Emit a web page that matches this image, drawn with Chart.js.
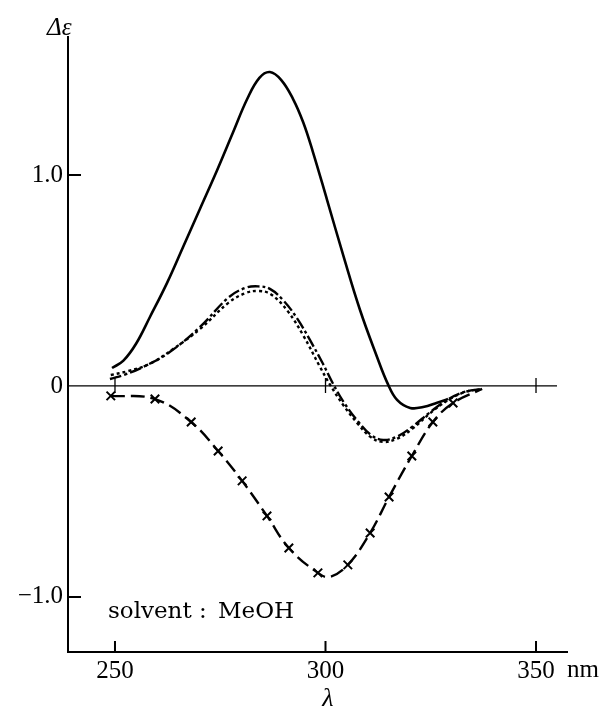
<!DOCTYPE html>
<html>
<head>
<meta charset="utf-8">
<script src="https://cdn.jsdelivr.net/npm/chart.js@4"></script>
<style>
  html, body { margin: 0; padding: 0; background: #fff; }
  canvas { display: block; }
</style>
</head>
<body>
<canvas id="cd" width="604" height="710"></canvas>
<script>
// CD spectra (nm, delta epsilon)
const solidCurve = [
    [249.3, 0.085], [252.0, 0.12], [255.0, 0.2], [258.3, 0.327], [262.4, 0.49], [266.2, 0.66],
    [270.2, 0.84], [274.2, 1.02], [278.0, 1.2], [281.4, 1.36], [284.3, 1.46],
    [286.8, 1.488], [289.5, 1.45], [292.3, 1.36], [294.7, 1.25], [297.0, 1.11],
    [300.4, 0.88], [304.2, 0.62], [308.2, 0.36], [312.2, 0.14], [314.8, 0.01],
    [317.0, -0.066], [320.1, -0.104], [323.2, -0.1], [326.5, -0.08], [329.1, -0.062],
];
const dashDotCurve = [
    [248.8, 0.033], [252.5, 0.055], [256.7, 0.09], [263.0, 0.161], [270.2, 0.28],
    [277.0, 0.42], [281.0, 0.465], [284.0, 0.472], [286.8, 0.46], [290.0, 0.405], [293.2, 0.322],
    [296.3, 0.218], [299.4, 0.105], [301.8, 0.01], [304.6, -0.085], [307.8, -0.17],
    [310.8, -0.232], [313.7, -0.256], [317.0, -0.24], [320.8, -0.19], [324.8, -0.125],
    [328.9, -0.066], [332.7, -0.03], [337.2, -0.014],
];
const dottedCurve = [
    [249.0, 0.052], [253.0, 0.07], [258.3, 0.105], [263.8, 0.175], [270.2, 0.27],
    [277.0, 0.395], [281.0, 0.44], [284.0, 0.45], [287.0, 0.435], [291.0, 0.355], [294.7, 0.24],
    [298.7, 0.09], [301.1, 0.005], [304.2, -0.09], [307.5, -0.175], [310.6, -0.24],
    [313.5, -0.265], [317.0, -0.25], [320.8, -0.2], [324.8, -0.13], [328.9, -0.07],
    [332.7, -0.032], [336.0, -0.016],
];
const crossMarks = [
    [249.0, -0.047], [259.5, -0.062], [268.1, -0.171], [274.5, -0.308], [280.2, -0.450],
    [286.1, -0.616], [291.3, -0.768], [298.2, -0.886], [305.3, -0.848], [310.6, -0.697],
    [315.1, -0.526], [320.5, -0.332], [325.5, -0.171], [330.3, -0.081],
];
const crossCurveExtra = [[301.0, -0.905], [337.2, -0.014]];

const xTicks = [250, 300, 350];
const yTicks = [-1, 0, 1];
const yTickLabels = { "-1": "\u22121.0", "0": "0", "1": "1.0" };

const toXY = (arr) => arr.map(([x, y]) => ({ x, y }));
const crossCurve = toXY(crossMarks.concat(crossCurveExtra)).sort((a, b) => a.x - b.x);

const serif = "'Liberation Serif', serif";

const decorations = {
    id: "decorations",
    beforeDatasetsDraw(chart) {
        const { ctx, scales: { x, y }, chartArea } = chart;
        const y0 = y.getPixelForValue(0);
        ctx.save();
        ctx.strokeStyle = "#000";
        // zero line with crossing ticks
        ctx.lineWidth = 1.3;
        ctx.beginPath();
        ctx.moveTo(chartArea.left, y0);
        ctx.lineTo(557, y0);
        xTicks.forEach((v) => {
            const px = x.getPixelForValue(v);
            ctx.moveTo(px, y0 - 8);
            ctx.lineTo(px, y0 + 7);
        });
        ctx.stroke();
        // inner ticks on the axes
        ctx.lineWidth = 2;
        ctx.beginPath();
        yTicks.filter((v) => v !== 0).forEach((v) => {
            const py = y.getPixelForValue(v);
            ctx.moveTo(chartArea.left, py);
            ctx.lineTo(chartArea.left + 13, py);
        });
        xTicks.forEach((v) => {
            const px = x.getPixelForValue(v);
            ctx.moveTo(px, chartArea.bottom);
            ctx.lineTo(px, chartArea.bottom - 11);
        });
        ctx.stroke();
        ctx.restore();
    },
    afterDraw(chart) {
        const { ctx } = chart;
        ctx.save();
        ctx.fillStyle = "#000";
        ctx.textBaseline = "alphabetic";
        ctx.font = "italic 25px " + serif;
        ctx.textAlign = "left";
        ctx.fillText("\u0394\u03b5", 47, 35);
        ctx.font = "25px " + serif;
        ctx.fillText("nm", 567, 677);
        ctx.font = "italic 26px " + serif;
        ctx.textAlign = "center";
        ctx.fillText("\u03bb", 328, 706);
        ctx.font = "23px 'DejaVu Serif', serif";
        ctx.textAlign = "left";
        ctx.fillText("solvent", 108, 618);
        ctx.fillText(":", 199, 618);
        ctx.fillText("MeOH", 218, 618);
        ctx.restore();
    },
};

const lineStyle = {
    borderColor: "#000",
    pointRadius: 0,
    tension: 0.4,
};

new Chart(document.getElementById("cd"), {
    type: "line",
    data: {
        datasets: [
            { ...lineStyle, data: toXY(solidCurve), borderWidth: 2.6 },
            { ...lineStyle, data: toXY(dashDotCurve), borderWidth: 2.4, borderDash: [12, 3, 3, 3] },
            { ...lineStyle, data: toXY(dottedCurve), borderWidth: 2.4, borderDash: [3, 3] },
            { ...lineStyle, data: crossCurve, borderWidth: 2.4, borderDash: [14, 6] },
            {
                data: toXY(crossMarks),
                showLine: false,
                borderColor: "#000",
                borderWidth: 2,
                pointStyle: "crossRot",
                pointRadius: 6,
            },
        ],
    },
    options: {
        responsive: false,
        animation: false,
        devicePixelRatio: 1,
        layout: { padding: { left: 0, top: 37, right: 37, bottom: 0 } },
        plugins: { legend: { display: false }, tooltip: { enabled: false } },
        scales: {
            x: {
                type: "linear",
                min: 238.84,
                max: 357.36,
                grid: { display: false, drawTicks: false },
                border: { display: true, color: "#000", width: 2 },
                afterBuildTicks: (scale) => { scale.ticks = xTicks.map((value) => ({ value })); },
                afterFit: (scale) => { scale.height = 58; },
                ticks: {
                    color: "#000",
                    padding: 4,
                    maxRotation: 0,
                    font: { family: serif, size: 25 },
                    callback: (v) => String(v),
                },
            },
            y: {
                type: "linear",
                min: -1.261,
                max: 1.654,
                grid: { display: false, drawTicks: false },
                border: { display: true, color: "#000", width: 2 },
                afterBuildTicks: (scale) => { scale.ticks = yTicks.map((value) => ({ value })); },
                afterFit: (scale) => { scale.width = 68; },
                ticks: {
                    color: "#000",
                    padding: 5,
                    font: { family: serif, size: 25 },
                    callback: (v) => yTickLabels[String(v)],
                },
            },
        },
    },
    plugins: [decorations],
});
</script>
</body>
</html>
